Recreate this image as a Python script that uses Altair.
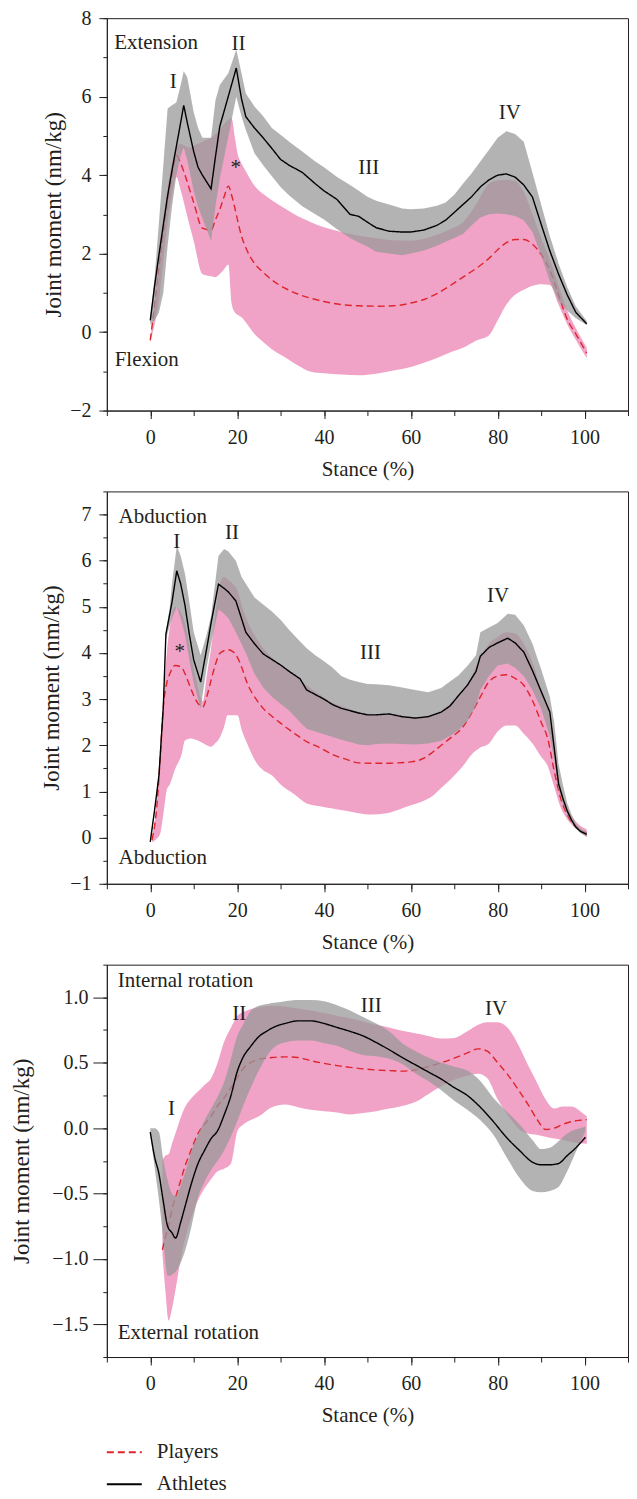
import altair as alt
import pandas as pd

FONT = "Liberation Serif"
TXT = "#231f20"
RED = "#e0242c"
PINK = "#f0a3c6"
GREY = "#999999"

# ---------------- Panel 1 : flexion / extension ----------------
p1_ath_x = [0, 1, 2, 3, 4, 5, 6, 7, 7.7, 8.5, 10, 11, 12, 14, 15, 16, 18, 19.8, 21, 22, 24, 26, 28, 30, 32, 35, 38, 40, 43, 46, 48, 50, 52, 55, 58, 60, 63, 66, 68, 70, 72, 74, 76, 78, 80, 82, 84, 86, 88, 90, 92, 94, 96, 98, 100.5]
p1_ath_mean = [0.30, 1.18, 1.97, 2.73, 3.48, 4.12, 4.73, 5.34, 5.78, 5.35, 4.6, 4.2, 4.0, 3.65, 4.46, 5.24, 6.02, 6.73, 5.95, 5.49, 5.2, 4.95, 4.68, 4.40, 4.25, 4.07, 3.78, 3.6, 3.38, 3.0, 2.95, 2.8, 2.66, 2.57, 2.55, 2.55, 2.6, 2.72, 2.85, 3.05, 3.25, 3.45, 3.7, 3.88, 4.0, 4.03, 3.95, 3.75, 3.44, 2.75, 2.07, 1.48, 0.95, 0.5, 0.21]
p1_ath_hi = [0.35, 1.4, 2.8, 4.25, 5.7, 5.78, 5.85, 6.3, 6.65, 6.5, 5.6, 5.2, 4.95, 4.95, 5.9, 6.3, 6.6, 7.2, 6.6, 6.08, 5.75, 5.5, 5.2, 5.03, 4.85, 4.6, 4.35, 4.2, 3.95, 3.75, 3.6, 3.45, 3.35, 3.25, 3.15, 3.13, 3.15, 3.22, 3.3, 3.5, 3.78, 4.05, 4.35, 4.65, 4.95, 5.12, 5.05, 4.85, 4.06, 3.25, 2.45, 1.75, 1.15, 0.65, 0.28]
p1_ath_lo = [0.2, 0.3, 0.5, 1.0, 2.2, 3.2, 4.0, 4.5, 4.7, 4.4, 3.6, 3.2, 2.9, 2.32, 3.2, 3.9, 5.0, 6.0, 5.5, 5.15, 4.56, 4.25, 3.97, 3.7, 3.48, 3.21, 3.0, 2.87, 2.62, 2.4, 2.28, 2.18, 2.05, 2.0, 1.96, 2.0, 2.08, 2.2, 2.3, 2.4, 2.5, 2.72, 2.92, 3.0, 3.02, 3.0, 2.96, 2.85, 2.55, 1.95, 1.3, 0.8, 0.55, 0.35, 0.18]

p1_ply_x = [0, 1, 2, 3, 4, 5, 6, 7, 8, 9, 10, 12, 14, 15, 16, 17, 18, 18.7, 19.5, 20, 21, 22, 24, 26, 28, 31, 34, 37, 40, 44, 48, 52, 56, 60, 63, 66, 69, 72, 75, 78, 80, 82, 84, 86, 88, 90, 92, 94, 96, 98, 100.5]
p1_ply_mean = [-0.21, 0.7, 1.65, 2.55, 3.35, 4.0, 4.5, 4.3, 4.0, 3.65, 3.3, 2.65, 2.6, 2.86, 3.12, 3.45, 3.72, 3.5, 3.15, 2.9, 2.45, 2.15, 1.75, 1.52, 1.33, 1.12, 0.97, 0.86, 0.78, 0.7, 0.67, 0.66, 0.67, 0.74, 0.83, 0.98, 1.18, 1.4, 1.62, 1.88, 2.1, 2.28, 2.36, 2.36, 2.24, 1.98, 1.58, 0.95, 0.33, -0.05, -0.54]
p1_ply_hi = [-0.2, 0.8, 1.8, 2.8, 3.7, 4.3, 4.7, 4.8, 4.75, 4.7, 4.75, 4.85, 4.95, 5.05, 5.15, 5.3, 5.42, 5.45, 4.95, 4.6, 4.3, 4.1, 3.73, 3.52, 3.36, 3.15, 2.95, 2.8, 2.67, 2.55, 2.46, 2.39, 2.34, 2.33, 2.38, 2.48, 2.62, 2.8, 3.25, 3.78, 3.86, 3.88, 3.85, 3.57, 3.0, 2.4, 1.85, 1.2, 0.55, 0.1, -0.4]
p1_ply_lo = [-0.25, 0.2, 0.8, 1.8, 2.8, 3.5, 3.95, 3.62, 3.18, 2.74, 2.32, 1.48, 1.42, 1.4, 1.48, 1.6, 1.72, 0.75, 0.5, 0.45, 0.38, 0.25, -0.05, -0.25, -0.44, -0.64, -0.85, -1.01, -1.05, -1.08, -1.1, -1.06, -0.98, -0.89, -0.78, -0.66, -0.52, -0.4, -0.22, -0.08, 0.3, 0.7, 0.95, 1.08, 1.18, 1.22, 1.2, 0.7, 0.2, -0.2, -0.67]

# ---------------- Panel 2 : abduction ----------------
p2_ath_x = [0, 1, 2, 3, 3.6, 4.5, 5, 6.1, 7, 8, 9, 10, 11.6, 13, 14, 15.7, 17, 18, 19.7, 21, 22, 24, 26, 28, 30, 32, 34.5, 36, 38, 40, 42, 44, 46, 48, 50, 52, 55, 58, 61, 64, 67, 69, 71, 73, 75, 76, 78, 80, 82.3, 84, 86, 88, 90, 92, 93, 94, 95, 96, 97, 98, 99, 100.5]
p2_ath_mean = [-0.09, 0.6, 1.35, 2.83, 4.41, 4.85, 5.1, 5.78, 5.5, 5.03, 4.4, 3.85, 3.37, 4.1, 4.65, 5.49, 5.4, 5.32, 5.13, 4.75, 4.45, 4.2, 3.98, 3.86, 3.74, 3.6, 3.44, 3.2, 3.1, 3.0, 2.88, 2.8, 2.75, 2.7, 2.66, 2.66, 2.68, 2.62, 2.59, 2.62, 2.72, 2.85, 3.08, 3.3, 3.6, 3.93, 4.12, 4.22, 4.32, 4.22, 4.02, 3.62, 3.17, 2.72, 1.95, 1.17, 0.85, 0.58, 0.38, 0.23, 0.14, 0.07]
p2_ath_hi = [-0.05, 0.65, 1.4, 2.9, 4.45, 5.0, 5.5, 6.32, 6.1, 5.71, 5.1, 4.45, 3.95, 4.4, 4.8, 6.1, 6.25, 6.2, 6.0, 5.65, 5.5, 5.2, 5.05, 4.9, 4.72, 4.5, 4.25, 4.1, 3.95, 3.82, 3.68, 3.5, 3.42, 3.37, 3.33, 3.32, 3.3, 3.25, 3.2, 3.15, 3.24, 3.38, 3.52, 3.72, 3.95, 4.45, 4.55, 4.65, 4.85, 4.83, 4.6, 4.2, 3.65, 3.05, 2.5, 1.6, 1.15, 0.75, 0.5, 0.3, 0.2, 0.13]
p2_ath_lo = [-0.12, 0.55, 1.3, 2.75, 4.3, 4.6, 4.75, 5.0, 4.75, 4.4, 3.85, 3.35, 2.8, 3.7, 4.2, 4.95, 4.85, 4.75, 4.45, 4.2, 4.0, 3.55, 3.25, 3.05, 2.9, 2.75, 2.5, 2.36, 2.3, 2.24, 2.18, 2.12, 2.07, 2.02, 2.0, 2.03, 2.04, 2.03, 2.02, 2.04, 2.1, 2.2, 2.33, 2.52, 2.85, 3.2, 3.5, 3.73, 3.77, 3.68, 3.5, 3.19, 2.8, 2.2, 1.7, 1.03, 0.75, 0.5, 0.33, 0.2, 0.1, 0.02]

p2_ply_x = [0.4, 1.5, 2.3, 3, 3.8, 4.5, 5.7, 7.2, 8, 9.5, 10.5, 12.1, 13, 14, 15, 15.9, 17, 17.8, 19, 20.1, 21, 22.3, 24.6, 26, 28, 30, 33, 36, 39, 42, 45, 48, 51, 54, 57, 60, 63, 65, 67, 69, 72, 74, 76, 78, 80, 82, 84, 86, 88, 90, 91.5, 93, 94.5, 96, 98, 100.5]
p2_ply_mean = [-0.05, 0.67, 1.75, 2.83, 3.35, 3.55, 3.73, 3.69, 3.55, 3.19, 2.98, 2.83, 3.05, 3.41, 3.75, 3.98, 4.05, 4.07, 4.03, 3.9, 3.7, 3.35, 2.97, 2.8, 2.63, 2.48, 2.27, 2.08, 1.95, 1.8, 1.7, 1.62, 1.61, 1.61, 1.62, 1.64, 1.72, 1.85, 2.0, 2.15, 2.4, 2.7, 3.05, 3.38, 3.5, 3.53, 3.45, 3.3, 2.97, 2.5, 2.15, 1.45, 0.85, 0.5, 0.22, 0.1]
p2_ply_hi = [0.0, 0.75, 1.85, 2.9, 4.0, 4.55, 5.0, 4.85, 4.63, 3.9, 3.45, 2.95, 3.5, 4.1, 4.85, 5.45, 5.65, 5.6, 5.5, 5.35, 5.05, 4.7, 4.3, 4.1, 3.9, 3.75, 3.55, 3.3, 3.1, 2.92, 2.82, 2.72, 2.68, 2.66, 2.66, 2.6, 2.62, 2.66, 2.74, 2.9, 3.15, 3.5, 3.9, 4.2, 4.35, 4.45, 4.42, 4.2, 3.8, 3.2, 2.8, 2.0, 1.1, 0.65, 0.35, 0.18]
p2_ply_lo = [-0.1, -0.02, 0.09, 0.5, 1.03, 1.15, 1.48, 1.8, 2.11, 2.15, 2.12, 2.05, 2.0, 1.97, 2.05, 2.15, 2.4, 2.65, 2.65, 2.65, 2.35, 2.04, 1.6, 1.46, 1.35, 1.15, 0.95, 0.74, 0.68, 0.63, 0.58, 0.53, 0.5, 0.52, 0.6, 0.7, 0.8, 0.9, 1.08, 1.25, 1.55, 1.8, 1.95, 2.04, 2.3, 2.43, 2.43, 2.25, 2.04, 1.75, 1.55, 1.1, 0.65, 0.4, 0.2, 0.02]

# ---------------- Panel 3 : rotation ----------------
p3_ath_x = [0, 1, 2, 3, 4, 5, 5.8, 7, 8, 9.5, 11, 12.5, 14, 15.5, 17, 18.5, 20, 21.5, 23, 25, 27, 29, 31, 34, 37, 40, 43, 46, 49, 52, 55, 58, 61, 64, 67, 70, 73, 76, 79, 82, 85, 88, 90, 92, 94, 96, 98, 100.2]
p3_ath_mean = [-0.03, -0.22, -0.35, -0.56, -0.75, -0.8, -0.84, -0.72, -0.6, -0.42, -0.27, -0.17, -0.08, -0.02, 0.1, 0.24, 0.43, 0.55, 0.62, 0.7, 0.745, 0.78, 0.8, 0.82, 0.82, 0.8, 0.77, 0.74, 0.705, 0.655, 0.6, 0.54, 0.485, 0.43, 0.375, 0.31, 0.25, 0.16, 0.05, -0.07, -0.17, -0.26, -0.28, -0.28, -0.27, -0.21, -0.15, -0.07]
p3_ath_hi = [0.0, 0.0, -0.03, -0.24, -0.4, -0.5, -0.52, -0.44, -0.34, -0.17, -0.05, 0.06, 0.15, 0.24, 0.35, 0.52, 0.7, 0.8, 0.89, 0.935, 0.95, 0.96, 0.97, 0.98, 0.98, 0.97, 0.94, 0.9, 0.85, 0.8, 0.74, 0.65, 0.59, 0.54, 0.5, 0.47, 0.44, 0.36, 0.23, 0.13, 0.03, -0.09, -0.16, -0.15, -0.1, -0.04, -0.01, 0.01]
p3_ath_lo = [-0.04, -0.3, -0.55, -0.85, -1.13, -1.12, -1.1, -1.03, -0.94, -0.75, -0.53, -0.41, -0.32, -0.25, -0.17, -0.07, 0.05, 0.18, 0.3, 0.44, 0.56, 0.63, 0.655, 0.67, 0.67, 0.65, 0.63, 0.59, 0.56, 0.55, 0.53, 0.49, 0.42, 0.36, 0.29, 0.21, 0.14, 0.06, -0.05, -0.22, -0.38, -0.48, -0.49, -0.48, -0.45, -0.33, -0.18, -0.02]

p3_ply_x = [2.8, 3.5, 4.2, 5, 6, 7, 8, 9.5, 11, 12.5, 14, 15.5, 17, 18.6, 20.1, 21.5, 23, 25, 28, 31, 34, 37, 40, 43, 46, 49, 52, 55, 58, 61, 64, 67, 70, 73, 75.5, 77.5, 80, 82.5, 85, 87, 89, 91, 93, 95, 97, 99, 100.5]
p3_ply_mean = [-0.93, -0.83, -0.75, -0.62, -0.51, -0.4, -0.29, -0.16, -0.04, 0.03, 0.09, 0.17, 0.23, 0.31, 0.39, 0.46, 0.5, 0.525, 0.54, 0.545, 0.54, 0.515, 0.495, 0.478, 0.465, 0.453, 0.445, 0.44, 0.436, 0.445, 0.47, 0.5, 0.535, 0.575, 0.606, 0.59, 0.5, 0.4, 0.28, 0.18, 0.07, -0.01, 0.0, 0.03, 0.05, 0.06, 0.065]
p3_ply_hi = [-0.25, -0.21, -0.2, -0.12, -0.02, 0.08, 0.16, 0.23, 0.28, 0.33, 0.38, 0.5, 0.66, 0.77, 0.86, 0.89, 0.91, 0.925, 0.935, 0.93, 0.915, 0.9, 0.88, 0.86, 0.84, 0.815, 0.79, 0.77, 0.745, 0.725, 0.705, 0.685, 0.69, 0.74, 0.79, 0.81, 0.81, 0.76, 0.62, 0.48, 0.35, 0.22, 0.15, 0.165, 0.165, 0.13, 0.09]
p3_ply_lo = [-0.96, -1.25, -1.47, -1.38, -1.2, -1.0, -0.85, -0.68, -0.55, -0.46, -0.39, -0.33, -0.31, -0.27, -0.02, 0.03, 0.06, 0.09, 0.16, 0.18, 0.16, 0.14, 0.13, 0.12, 0.105, 0.115, 0.13, 0.15, 0.17, 0.2, 0.26, 0.32, 0.37, 0.4, 0.415, 0.385, 0.22, 0.09, -0.01, -0.04, -0.05, -0.065, -0.08, -0.09, -0.105, -0.115, -0.12]

# ---------------- annotations (text, x, y) ----------------
p1_side_text = ["Extension", "Flexion"]
p1_side_x = [-8.3, -8.2]
p1_side_y = [7.36, -0.72]
p1_phase_text = ["I", "II", "III", "IV"]
p1_phase_x = [5.3, 20.3, 50.3, 82.8]
p1_phase_y = [6.38, 7.35, 4.18, 5.58]
p1_star_x = [19.7]
p1_star_y = [4.31]

p2_side_text = ["Abduction", "Abduction"]
p2_side_x = [-7.3, -7.3]
p2_side_y = [6.94, -0.44]
p2_phase_text = ["I", "II", "III", "IV"]
p2_phase_x = [6.1, 18.8, 50.7, 80.1]
p2_phase_y = [6.4, 6.6, 4.0, 5.23]
p2_star_x = [6.8]
p2_star_y = [4.13]

p3_side_text = ["Internal rotation", "External rotation"]
p3_side_x = [-7.5, -7.5]
p3_side_y = [1.122, -1.563]
p3_phase_text = ["I", "II", "III", "IV"]
p3_phase_x = [4.9, 20.5, 50.9, 79.6]
p3_phase_y = [0.148, 0.873, 0.936, 0.911]

GROUPS = ["Players", "Athletes"]
X_TICKS = list(range(-10, 111, 10))
X_MAJOR = list(range(0, 101, 20))

LEG = alt.Legend(orient="none", legendX=-1, legendY=1418, direction="vertical",
                 symbolType="stroke", symbolSize=1225, symbolStrokeWidth=2,
                 labelFont=FONT, labelFontSize=21, labelColor=TXT,
                 rowPadding=3, labelOffset=14)


def ticks(lo, hi, step):
    n = int(round((hi - lo) / step))
    return [round(lo + i * step, 4) for i in range(n + 1)]


def frame(x, mean, lo, hi, grp):
    return pd.DataFrame({"x": x, "mean": mean, "lo": lo, "hi": hi, "grp": grp})


def panel(ath, ply, ydom, ymin_step, ymaj_step, yfmt, ytick, ylabpad, ytitlepad,
          side, phase, star, ath_interp):
    xs = alt.Scale(domain=[-10, 110], nice=False, zero=False)
    ys = alt.Scale(domain=ydom, nice=False, zero=False)
    yminor = ticks(ydom[0], ydom[1], ymin_step)
    ymajor = [v for v in yminor if abs(v / ymaj_step - round(v / ymaj_step)) < 1e-9]

    xaxis = alt.Axis(values=X_MAJOR, tickSize=8, labelPadding=9, title="Stance (%)",
                     titlePadding=11, grid=False, labelFlush=False)
    yaxis = alt.Axis(values=ymajor, format=yfmt, tickSize=ytick, labelPadding=ylabpad,
                     title="Joint moment (nm/kg)", titlePadding=ytitlepad, grid=False,
                     labelFlush=False, titleFontSize=23)
    xminor = alt.Axis(values=X_TICKS, orient="bottom", labels=False, domain=False,
                      tickSize=5, grid=False, title=None)
    yminor_ax = alt.Axis(values=yminor, orient="left", labels=False, domain=False,
                         tickSize=4, grid=False, title=None)

    X = alt.X("x:Q", scale=xs, title="Stance (%)")
    pink = alt.Chart(ply).mark_area(color=PINK, interpolate="monotone").encode(
        x=alt.X("x:Q", scale=xs, axis=xaxis),
        y=alt.Y("lo:Q", scale=ys, axis=yaxis),
        y2="hi:Q",
    )
    red = alt.Chart(ply).mark_line(strokeWidth=1.4, interpolate="monotone").encode(
        x=X,
        y=alt.Y("mean:Q", scale=ys, title="Joint moment (nm/kg)"),
        color=alt.Color("grp:N", scale=alt.Scale(domain=GROUPS, range=[RED, "#000000"]),
                        legend=LEG, title=None),
        strokeDash=alt.StrokeDash("grp:N", scale=alt.Scale(domain=GROUPS, range=[[7, 4], [1, 0]]),
                                  legend=LEG, title=None),
    )
    grey = alt.Chart(ath).mark_area(color=GREY, opacity=0.74, interpolate=ath_interp).encode(
        x=X,
        y=alt.Y("lo:Q", scale=ys, title="Joint moment (nm/kg)"),
        y2="hi:Q",
    )
    black = alt.Chart(ath).mark_line(strokeWidth=1.4, interpolate=ath_interp).encode(
        x=X,
        y=alt.Y("mean:Q", scale=ys, title="Joint moment (nm/kg)"),
        color=alt.Color("grp:N", scale=alt.Scale(domain=GROUPS, range=[RED, "#000000"]),
                        legend=LEG, title=None),
        strokeDash=alt.StrokeDash("grp:N", scale=alt.Scale(domain=GROUPS, range=[[7, 4], [1, 0]]),
                                  legend=LEG, title=None),
    )
    side_df = pd.DataFrame({"x": side[1], "y": side[2], "t": side[0]})
    phase_df = pd.DataFrame({"x": phase[1], "y": phase[2], "t": phase[0]})
    t_side = alt.Chart(side_df).mark_text(align="left", baseline="middle", font=FONT,
                                          fontSize=21, color=TXT).encode(
        x=X, y=alt.Y("y:Q", scale=ys, title="Joint moment (nm/kg)"), text="t:N")
    t_phase = alt.Chart(phase_df).mark_text(align="center", baseline="middle", font=FONT,
                                            fontSize=21, color=TXT).encode(
        x=X, y=alt.Y("y:Q", scale=ys, title="Joint moment (nm/kg)"), text="t:N")
    layers = [pink, red, grey, black, t_side, t_phase]
    if star is not None:
        star_df = pd.DataFrame({"x": star[0], "y": star[1], "t": ["*"] * len(star[0])})
        t_star = alt.Chart(star_df).mark_text(align="center", baseline="middle", font=FONT,
                                              fontSize=21, color=TXT, dy=5).encode(
            x=X, y=alt.Y("y:Q", scale=ys, title="Joint moment (nm/kg)"), text="t:N")
        layers.append(t_star)
    main = alt.layer(*layers)
    minor = alt.Chart(ply).mark_line(strokeOpacity=0).encode(
        x=alt.X("x:Q", scale=xs, axis=xminor),
        y=alt.Y("mean:Q", scale=ys, axis=yminor_ax),
    )
    return alt.layer(main, minor).resolve_axis(x="independent", y="independent").properties(
        width=522, height=393)


p1 = panel(frame(p1_ath_x, p1_ath_mean, p1_ath_lo, p1_ath_hi, "Athletes"),
           frame(p1_ply_x, p1_ply_mean, p1_ply_lo, p1_ply_hi, "Players"),
           [-2, 8], 1, 2, "d", 8, 8, 4,
           (p1_side_text, p1_side_x, p1_side_y), (p1_phase_text, p1_phase_x, p1_phase_y),
           (p1_star_x, p1_star_y), "linear")
p2 = panel(frame(p2_ath_x, p2_ath_mean, p2_ath_lo, p2_ath_hi, "Athletes"),
           frame(p2_ply_x, p2_ply_mean, p2_ply_lo, p2_ply_hi, "Players"),
           [-1, 7.5], 0.5, 1, "d", 8, 8, 6,
           (p2_side_text, p2_side_x, p2_side_y), (p2_phase_text, p2_phase_x, p2_phase_y),
           (p2_star_x, p2_star_y), "linear")
p3 = panel(frame(p3_ath_x, p3_ath_mean, p3_ath_lo, p3_ath_hi, "Athletes"),
           frame(p3_ply_x, p3_ply_mean, p3_ply_lo, p3_ply_hi, "Players"),
           [-1.75, 1.25], 0.25, 0.5, ".1f", 14, 5, 18,
           (p3_side_text, p3_side_x, p3_side_y), (p3_phase_text, p3_phase_x, p3_phase_y),
           None, "monotone")

chart = alt.vconcat(p1, p2, p3, spacing=81, bounds="flush").properties(
    padding={"top": -2, "left": 2, "right": 0, "bottom": 0}
).configure_view(
    stroke=TXT, strokeWidth=1
).configure_axis(
    domainColor=TXT, tickColor=TXT, labelColor=TXT, titleColor=TXT,
    labelFont=FONT, labelFontSize=20, titleFont=FONT, titleFontSize=21,
    titleFontWeight="normal", domainWidth=1, tickWidth=1
)

chart.save("out.html", embed_options={"renderer": "svg", "actions": False})
